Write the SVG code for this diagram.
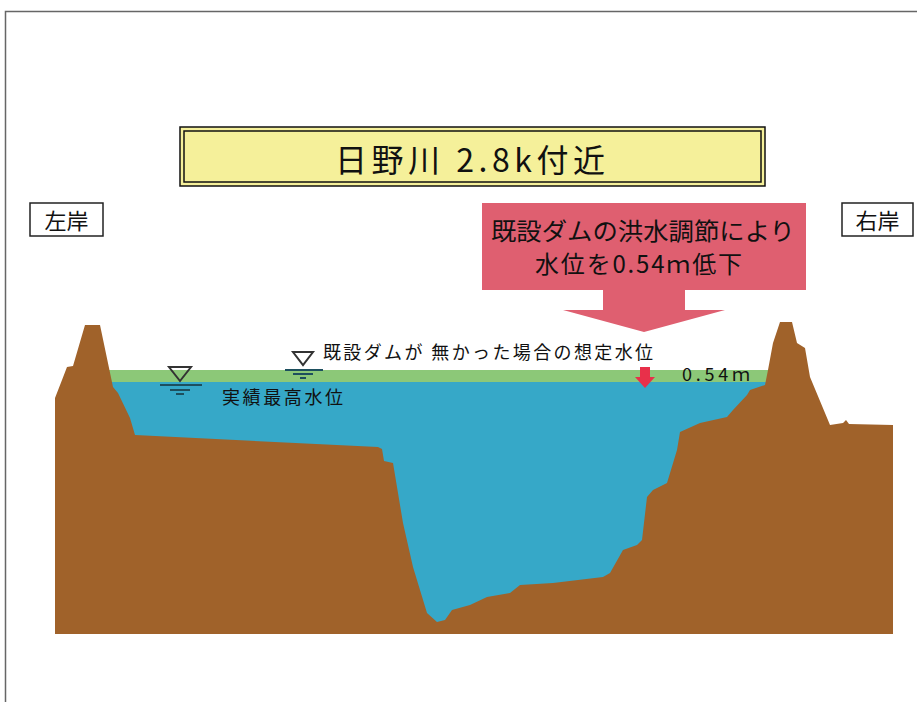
<svg xmlns="http://www.w3.org/2000/svg" width="917" height="702" viewBox="0 0 917 702">
  <style>
    text { font-family: "Noto Sans CJK JP", "Noto Sans", sans-serif; fill: #111; }
    .bank { fill: #fff; stroke: #222; stroke-width: 1.5; }
    .wl { fill: none; stroke: #333; stroke-width: 2; }
    .wl-line { stroke: #1d4f5e; stroke-width: 2; }
  </style>

  <rect x="0" y="0" width="917" height="702" fill="#fff"/>
  <!-- page frame -->
  <path d="M5.5,702 V11.5 H917" fill="none" stroke="#666" stroke-width="1.5"/>

  <!-- cross-section: flood level, water, ground -->
  <g id="section">
    <rect x="100" y="370" width="672" height="12" fill="#8cc878"/>
    <rect x="100" y="382" width="672" height="252" fill="#36a8c8"/>
    <polygon fill="#a0622a" points="55,634 55,398 62,380 67,367 73,366 85,325 100,325 113,387 118,393 130,418 135,435 378,447 382,449 384,461 393,463 403,523 413,567 427,613 437,622 445,620 452,610 470,605 487,597 510,593 520,585 553,583 603,577 610,573 623,550 637,545 642,540 647,497 653,490 667,483 677,450 680,432 700,423 727,417 733,410 747,395 750,390 765,385 768,370 773,343 780,322 792,322 797,343 805,348 810,377 830,425 843,423 846,420 849,424 893,425 893,634"/>
  </g>

  <!-- title -->
  <g id="title">
    <rect x="180" y="127" width="585" height="59" fill="#f5f09a" stroke="#111" stroke-width="1.5"/>
    <rect x="184" y="131" width="577" height="51" fill="none" stroke="#111" stroke-width="1.5"/>
    <text x="335" y="172" font-size="32" textLength="270" lengthAdjust="spacing">日野川 2.8k付近</text>
  </g>

  <!-- bank labels -->
  <g id="left-bank">
    <rect class="bank" x="30" y="203" width="73" height="33"/>
    <text x="66.5" y="229" font-size="22" text-anchor="middle">左岸</text>
  </g>
  <g id="right-bank">
    <rect class="bank" x="842" y="203" width="71" height="33"/>
    <text x="877.5" y="229" font-size="22" text-anchor="middle">右岸</text>
  </g>

  <!-- callout arrow -->
  <g id="callout">
    <polygon fill="#df5f70" points="482,203 806,203 806,290 685,290 685,310 725,310 644,332 563,310 603,310 603,290 482,290"/>
    <text x="491" y="240" font-size="24" textLength="304" lengthAdjust="spacingAndGlyphs">既設ダムの洪水調節により</text>
    <text x="535" y="273" font-size="24" textLength="207" lengthAdjust="spacing">水位を0.54ｍ低下</text>
  </g>

  <!-- water level marks -->
  <g id="level-observed">
    <polygon class="wl" points="169,367 191,367 180,381"/>
    <line class="wl-line" x1="160" y1="385" x2="202" y2="385"/>
    <line class="wl-line" x1="170" y1="390" x2="190" y2="390"/>
    <line class="wl-line" x1="176" y1="394" x2="184" y2="394"/>
    <text x="222" y="404" font-size="18" textLength="121" lengthAdjust="spacing">実績最高水位</text>
  </g>
  <g id="level-no-dam">
    <polygon class="wl" points="293,352 313,352 303,365"/>
    <line class="wl-line" x1="285" y1="370" x2="323" y2="370" stroke="#333"/>
    <line class="wl-line" x1="293" y1="374" x2="313" y2="374"/>
    <line class="wl-line" x1="300" y1="378" x2="306" y2="378"/>
    <text x="323" y="359" font-size="18" textLength="330" lengthAdjust="spacing">既設ダムが 無かった場合の想定水位</text>
  </g>

  <g id="drop">
    <polygon fill="#e8304a" points="640,367 650,367 650,377 655,377 645,388 635,377 640,377"/>
    <text x="682" y="381" font-size="18" textLength="68" lengthAdjust="spacing">0.54ｍ</text>
  </g>
</svg>
